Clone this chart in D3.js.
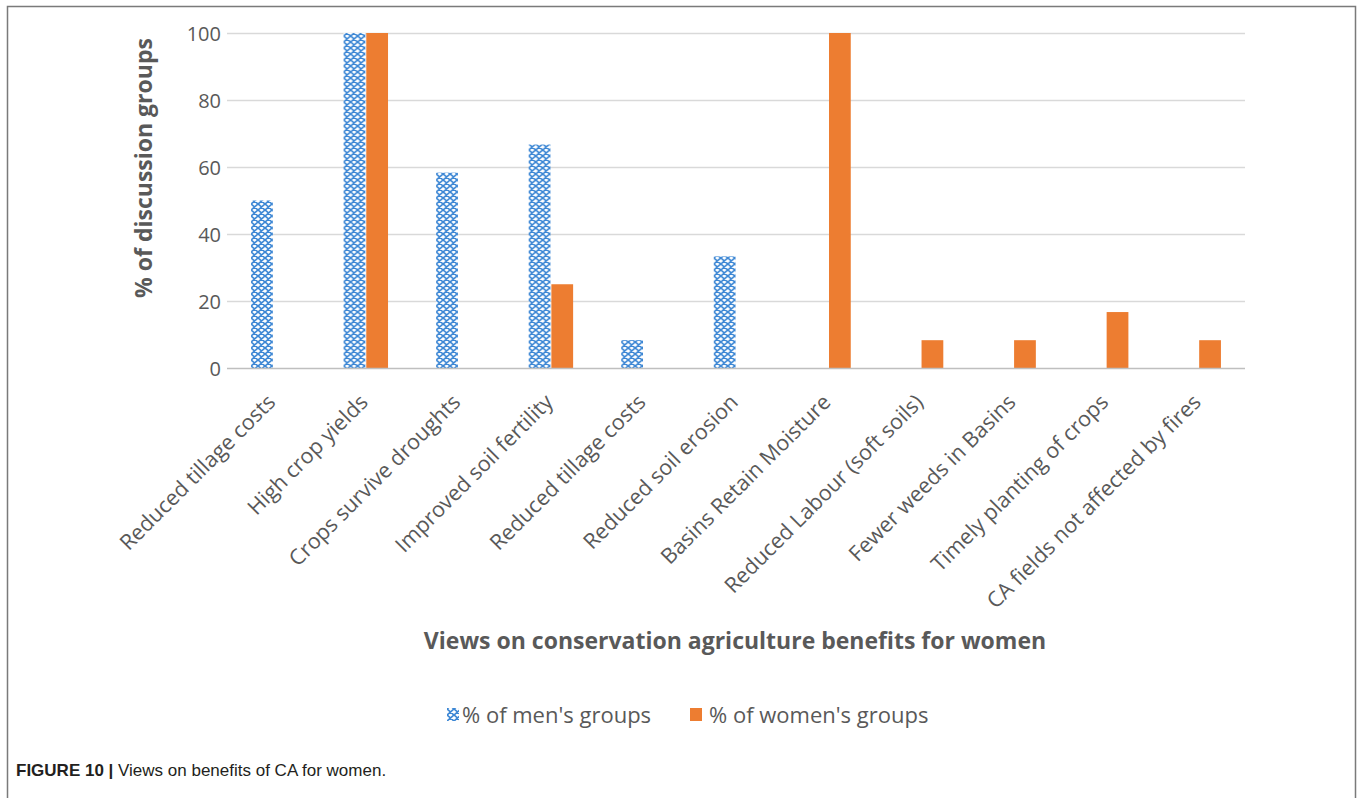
<!DOCTYPE html>
<html>
<head>
<meta charset="utf-8">
<script src="https://cdn.jsdelivr.net/npm/d3@7"></script>
<style>
  html, body { margin: 0; padding: 0; background: #fff; }
  svg { display: block; }
</style>
</head>
<body>
<svg id="chart" width="1363" height="798"></svg>
<script>
// Benefit categories named by discussion groups
const categories = [
  "Reduced tillage costs",
  "High crop yields",
  "Crops survive droughts",
  "Improved soil fertility",
  "Reduced tillage costs",
  "Reduced soil erosion",
  "Basins Retain Moisture",
  "Reduced Labour (soft soils)",
  "Fewer weeds in Basins",
  "Timely planting of crops",
  "CA fields not affected by fires"
];
// Percentage of groups mentioning each benefit
const menValues   = [50, 100, 58.3, 66.7, 8.3, 33.3, 0, 0, 0, 0, 0];
const womenValues = [0, 100, 0, 25, 0, 0, 100, 8.3, 8.3, 16.7, 8.3];
const seriesNames = ["% of men's groups", "% of women's groups"];
const yTicks = [0, 20, 40, 60, 80, 100];

const svg = d3.select("#chart");
const W = 1363, H = 798;
const plot = { left: 227, right: 1245, top: 33, bottom: 368 };
const textColor = "#595959";
const labelFont = "'Open Sans', Lato, sans-serif";

// Outer frame (open at the bottom)
svg.append("path")
  .attr("d", `M7.5,${H} V6.5 H1355.5 V${H}`)
  .attr("fill", "none")
  .attr("stroke", "#7a7a7a")
  .attr("stroke-width", 1.5);

// Cross-hatch fill for the men's series
const defs = svg.append("defs");
const pat = defs.append("pattern")
  .attr("id", "menHatch")
  .attr("patternUnits", "userSpaceOnUse")
  .attr("width", 7).attr("height", 6);
pat.append("rect").attr("width", 7).attr("height", 6).attr("fill", "#fff");
pat.append("path")
  .attr("d", "M0,0 L7,6 M7,0 L0,6 M-3.5,3 L0,6 M3.5,-3 L7,0 M7,6 L10.5,3 M0,0 L3.5,-3")
  .attr("stroke", "#3b86d4")
  .attr("stroke-width", 1.7)
  .attr("fill", "none");

const x0 = d3.scaleBand()
  .domain(d3.range(categories.length))
  .range([plot.left, plot.right])
  .paddingInner(0.52)
  .paddingOuter(0.26);
const x1 = d3.scaleBand()
  .domain([0, 1])
  .range([0, x0.bandwidth()])
  .paddingInner(0.04);
const y = d3.scaleLinear().domain([0, 100]).range([plot.bottom, plot.top]);

// Horizontal gridlines
svg.append("g")
  .selectAll("line")
  .data(yTicks.filter(d => d > 0))
  .join("line")
  .attr("x1", plot.left).attr("x2", plot.right)
  .attr("y1", d => Math.round(y(d)) + 0.5)
  .attr("y2", d => Math.round(y(d)) + 0.5)
  .attr("stroke", "#d9d9d9")
  .attr("stroke-width", 1.5);

// Y axis tick labels
const yAxis = d3.axisLeft(y).tickValues(yTicks).tickSize(0).tickPadding(0);
const yg = svg.append("g")
  .attr("transform", `translate(${plot.left - 6},0)`)
  .call(yAxis);
yg.select(".domain").remove();
yg.selectAll("text")
  .attr("font-family", labelFont)
  .attr("font-size", 20)
  .attr("fill", textColor)
  .attr("dy", "0.35em");

// Bars
const groups = svg.append("g")
  .selectAll("g")
  .data(categories.map((c, i) => i))
  .join("g")
  .attr("transform", i => `translate(${x0(i)},0)`);

groups.append("rect")
  .attr("x", x1(0))
  .attr("width", x1.bandwidth())
  .attr("y", i => y(menValues[i]))
  .attr("height", i => y(0) - y(menValues[i]))
  .attr("fill", "url(#menHatch)");

groups.append("rect")
  .attr("x", x1(1))
  .attr("width", x1.bandwidth())
  .attr("y", i => y(womenValues[i]))
  .attr("height", i => y(0) - y(womenValues[i]))
  .attr("fill", "#ed7d31");

// Baseline
svg.append("line")
  .attr("x1", plot.left).attr("x2", plot.right)
  .attr("y1", Math.round(y(0)) + 0.5).attr("y2", Math.round(y(0)) + 0.5)
  .attr("stroke", "#bfbfbf")
  .attr("stroke-width", 1.5);

// Rotated category labels
const xAxis = d3.axisBottom(x0).tickSize(0).tickFormat(i => categories[i]);
const xg = svg.append("g")
  .attr("transform", `translate(0,${plot.bottom})`)
  .call(xAxis);
xg.select(".domain").remove();
xg.selectAll("text")
  .attr("font-family", labelFont)
  .attr("font-size", 21.5)
  .attr("fill", textColor)
  .attr("text-anchor", "end")
  .attr("transform", "translate(-4,28) rotate(-45)")
  .attr("dy", "0.35em");

// Axis titles
svg.append("text")
  .attr("transform", `translate(152,168) rotate(-90)`)
  .attr("text-anchor", "middle")
  .attr("font-family", labelFont)
  .attr("font-weight", "bold")
  .attr("font-size", 23)
  .attr("fill", textColor)
  .text("% of discussion groups");

svg.append("text")
  .attr("x", 735).attr("y", 649)
  .attr("text-anchor", "middle")
  .attr("font-family", labelFont)
  .attr("font-weight", "bold")
  .attr("font-size", 23)
  .attr("fill", textColor)
  .text("Views on conservation agriculture benefits for women");

// Legend
const legend = svg.append("g").attr("transform", "translate(447,715)");
legend.append("rect").attr("x", 0).attr("y", -7).attr("width", 12).attr("height", 13)
  .attr("fill", "url(#menHatch)");
legend.append("text").attr("x", 15).attr("y", 0).attr("dy", "0.35em")
  .attr("font-family", labelFont).attr("font-size", 22).attr("fill", textColor)
  .text(seriesNames[0]);
legend.append("rect").attr("x", 243).attr("y", -7).attr("width", 12).attr("height", 13)
  .attr("fill", "#ed7d31");
legend.append("text").attr("x", 262).attr("y", 0).attr("dy", "0.35em")
  .attr("font-family", labelFont).attr("font-size", 22).attr("fill", textColor)
  .text(seriesNames[1]);

// Figure caption
const cap = svg.append("text")
  .attr("x", 16).attr("y", 776)
  .attr("font-family", "'Liberation Sans', Arial, sans-serif")
  .attr("font-size", 17)
  .attr("fill", "#231f20");
cap.append("tspan").attr("font-weight", "bold").text("FIGURE 10 | ");
cap.append("tspan").text("Views on benefits of CA for women.");
</script>
</body>
</html>
